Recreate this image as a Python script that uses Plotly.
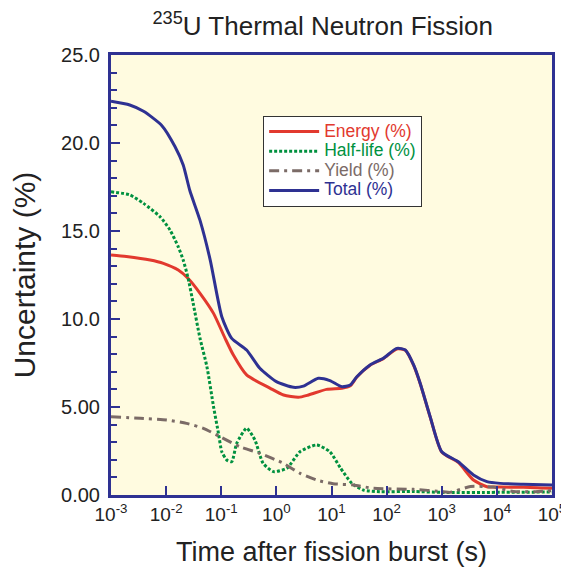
import plotly.graph_objects as go

# log10(time) sample positions and values
total_logt = [-3.0, -2.66, -2.41, -2.08, -1.84, -1.69, -1.57, -1.385, -1.2, -0.99, -0.81, -0.54, -0.30,
              0.0, 0.31, 0.49, 0.76, 0.97, 1.19, 1.34, 1.46, 1.70, 1.94, 2.185, 2.34, 2.49, 2.61, 2.79,
              3.0, 3.30, 3.575, 3.82, 4.06, 4.48, 5.0]
total_val = [22.37, 22.16, 21.8, 21.0, 19.8, 18.75, 17.3, 15.6, 13.35, 10.13, 8.9, 8.24, 7.2,
             6.44, 6.12, 6.19, 6.63, 6.5, 6.15, 6.25, 6.72, 7.39, 7.77, 8.33, 8.24, 7.39, 6.34, 4.45,
             2.46, 1.89, 1.14, 0.76, 0.66, 0.61, 0.57]

energy_logt = [-3.0, -2.72, -2.29, -2.05, -1.78, -1.6, -1.385, -1.14, -0.93, -0.78, -0.54, -0.11,
               0.13, 0.40, 0.58, 0.91, 1.19, 1.34, 1.46, 1.70, 1.94, 2.185, 2.34, 2.49, 2.61, 2.79,
               3.0, 3.30, 3.575, 3.82, 4.06, 4.48, 5.0]
energy_val = [13.64, 13.55, 13.35, 13.16, 12.78, 12.3, 11.46, 10.32, 8.9, 7.95, 6.82, 6.06,
              5.68, 5.55, 5.68, 6.0, 6.06, 6.2, 6.7, 7.37, 7.75, 8.3, 8.22, 7.37, 6.32, 4.43,
              2.44, 1.85, 0.85, 0.47, 0.45, 0.44, 0.38]

halflife_logt = [-3.0, -2.66, -2.41, -2.11, -1.93, -1.78, -1.69, -1.6, -1.51, -1.385, -1.26, -1.14,
                 -1.05, -0.99, -0.90, -0.81, -0.72, -0.54, -0.39, -0.24, -0.055, 0.19, 0.43, 0.73,
                 0.97, 1.16, 1.37, 1.58, 1.88, 2.5, 3.0, 4.0, 5.0]
halflife_val = [17.23, 17.05, 16.57, 15.81, 15.06, 14.1, 13.35, 12.3, 10.9, 8.9, 7.29, 5.02,
                3.5, 2.46, 1.99, 1.89, 2.93, 3.79, 3.13, 1.8, 1.33, 1.52, 2.46, 2.84,
                2.46, 1.55, 0.66, 0.28, 0.19, 0.2, 0.15, 0.15, 0.17]

yield_logt = [-3.0, -2.47, -1.99, -1.63, -1.325, -1.02, -0.66, -0.30, 0.127, 0.43, 0.73, 1.03,
              1.40, 1.76, 2.49, 3.03, 3.15, 3.52, 3.93, 4.3, 4.7, 5.0]
yield_val = [4.45, 4.36, 4.26, 4.07, 3.79, 3.31, 2.74, 2.37, 1.8, 1.23, 0.85, 0.64,
             0.57, 0.38, 0.32, 0.19, 0.15, 0.48, 0.45, 0.2, 0.19, 0.25]

y_tickvals = [0, 5, 10, 15, 20, 25]
y_ticktext = ["0.00", "5.00", "10.0", "15.0", "20.0", "25.0"]
x_exponents = [-3, -2, -1, 0, 1, 2, 3, 4, 5]

RED = "#E2392E"
GREEN = "#00913F"
BROWN = "#7B6B67"
BLUE = "#2E3192"
TXT = "#222222"
FONT = "Liberation Sans, Arial, sans-serif"


def tvals(logs):
    return [10 ** v for v in logs]


def legend_name(label, color):
    return f"<span style='color:{color};font-size:17.5px'>{label}</span>"


fig = go.Figure()
fig.add_trace(go.Scatter(x=tvals(energy_logt), y=energy_val, mode="lines",
                         name=legend_name("Energy (%)", RED),
                         line=dict(color=RED, width=3, shape="spline", smoothing=0.6)))
fig.add_trace(go.Scatter(x=tvals(halflife_logt), y=halflife_val, mode="lines",
                         name=legend_name("Half-life (%)", GREEN),
                         line=dict(color=GREEN, width=3, dash="3px,2px", shape="spline", smoothing=0.6)))
fig.add_trace(go.Scatter(x=tvals(yield_logt), y=yield_val, mode="lines",
                         name=legend_name("Yield (%)", BROWN),
                         line=dict(color=BROWN, width=3, dash="10px,5px,3px,5px", shape="spline", smoothing=0.6)))
fig.add_trace(go.Scatter(x=tvals(total_logt), y=total_val, mode="lines",
                         name=legend_name("Total (%)", BLUE),
                         line=dict(color=BLUE, width=3, shape="spline", smoothing=0.6)))

fig.update_layout(
    width=561, height=560,
    margin=dict(l=103, r=17, t=47, b=73, autoexpand=False),
    paper_bgcolor="white",
    plot_bgcolor="#FFFBE0",
    font=dict(family=FONT, color=TXT),
    title=dict(text="<sup>235</sup>U Thermal Neutron Fission", x=0.561, xanchor="center",
               y=0.968, yanchor="middle", font=dict(size=26, family=FONT, color=TXT)),
    showlegend=True,
    legend=dict(x=0.345, y=0.862, xanchor="left", yanchor="top",
                bgcolor="white", bordercolor="#333333", borderwidth=1,
                font=dict(size=12.8, family=FONT), tracegroupgap=0,
                itemwidth=50),
)

fig.update_xaxes(
    type="log", range=[-3, 5], automargin=False,
    tickvals=[10 ** e for e in x_exponents],
    ticktext=[f"10<sup>{e}</sup>" for e in x_exponents],
    ticks="inside", ticklen=9, tickwidth=2, tickcolor=BLUE,
    showline=True, linecolor=BLUE, linewidth=3, mirror=True,
    showgrid=False, zeroline=False,
    tickfont=dict(size=19, family=FONT, color=TXT),
    title=dict(text="Time after fission burst (s)", font=dict(size=27, family=FONT, color=TXT),
               standoff=19),
)
fig.update_yaxes(
    range=[0, 25], automargin=False,
    tickvals=y_tickvals, ticktext=y_ticktext,
    ticks="inside", ticklen=9, tickwidth=2, tickcolor=BLUE,
    ticklabelstandoff=4,
    minor=dict(dtick=1, ticks="inside", ticklen=6, tickwidth=2, tickcolor=BLUE),
    showline=True, linecolor=BLUE, linewidth=3, mirror=True,
    showgrid=False, zeroline=False,
    tickfont=dict(size=20, family=FONT, color=TXT),
    title=dict(text="Uncertainty (%)", font=dict(size=30, family=FONT, color=TXT),
               standoff=30),
)

fig.write_html("out.html")
